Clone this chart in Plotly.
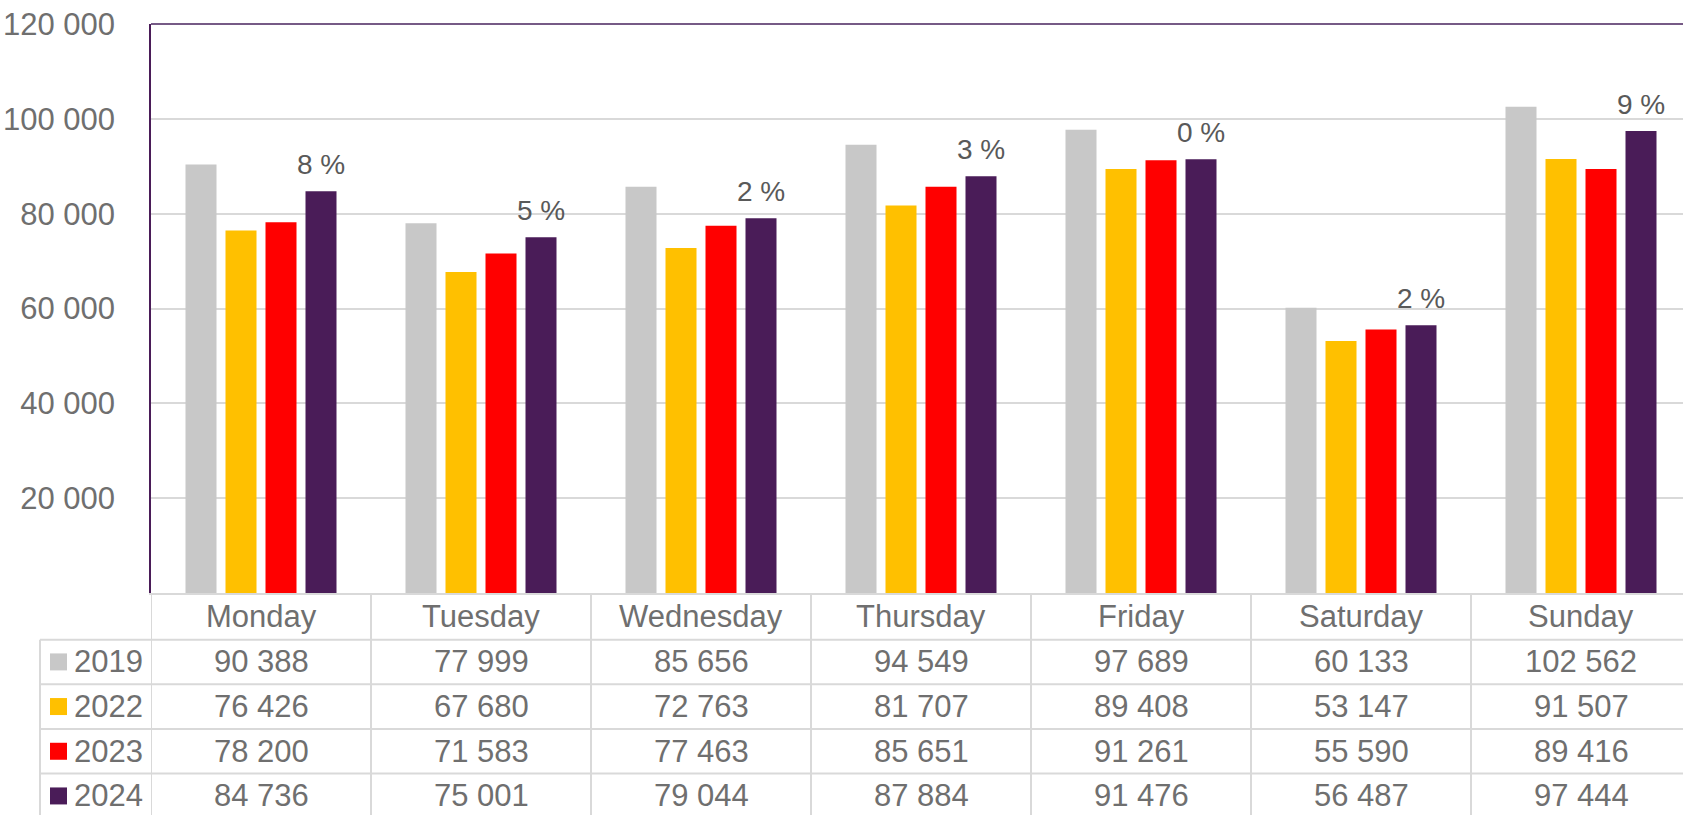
import plotly.graph_objects as go

# ---------------- data ----------------
days = ["Monday", "Tuesday", "Wednesday", "Thursday", "Friday", "Saturday", "Sunday"]
years = ["2019", "2022", "2023", "2024"]
v2019 = [90388, 77999, 85656, 94549, 97689, 60133, 102562]
v2022 = [76426, 67680, 72763, 81707, 89408, 53147, 91507]
v2023 = [78200, 71583, 77463, 85651, 91261, 55590, 89416]
v2024 = [84736, 75001, 79044, 87884, 91476, 56487, 97444]
pct_labels = ["8 %", "5 %", "2 %", "3 %", "0 %", "2 %", "9 %"]
tick_vals = [20000, 40000, 60000, 80000, 100000, 120000]
tick_text = ["20 000", "40 000", "60 000", "80 000", "100 000", "120 000"]

series = [v2019, v2022, v2023, v2024]
colors = ["#C8C8C8", "#FFC000", "#FF0000", "#4A1C58"]

# ---------------- geometry (pixels) ----------------
W, H = 1683, 815
L, T, B = 151, 24, 593.3          # plot area left / top / bottom
CAT_PX = 220.0
BARGAP = 0.2727
BARGROUPGAP = 0.225
x_max = -0.5 + (W - L) / CAT_PX

FONT = "Arial, Liberation Sans, sans-serif"
TXT = "#6F6F6F"
GRID = "#D9D9D9"


def py2paper(py):
    return (B - py) / (B - T)


def px2paper(px):
    return (px - L) / (W - L)


def fmt(v):
    return f"{v:,}".replace(",", " ")


fig = go.Figure()
for name, vals, col in zip(years, series, colors):
    fig.add_trace(go.Bar(x=days, y=vals, name=name, marker_color=col,
                         marker_line_width=0, hoverinfo="x+y+name"))

annotations = []
shapes = []

# percentage labels over 2024 bars
slot = CAT_PX * (1 - BARGAP) / 4
for d, v, lab in zip(days, v2024, pct_labels):
    annotations.append(dict(x=d, y=v, xref="x", yref="y", text=lab, showarrow=False,
                            xshift=1.5 * slot, yshift=9, yanchor="bottom",
                            font=dict(family=FONT, size=28, color="#595959")))

# table rows (pixel y boundaries)
row_lines = [640, 684.5, 729.3, 774, 818.7]
header_center = (B + row_lines[0]) / 2
for d in days:
    annotations.append(dict(x=d, y=py2paper(header_center), xref="x", yref="paper",
                            text=d, showarrow=False, yanchor="middle",
                            font=dict(family=FONT, size=31, color=TXT)))
for r, (yr, vals, col) in enumerate(zip(years, series, colors)):
    yc = (row_lines[r] + row_lines[r + 1]) / 2
    for d, v in zip(days, vals):
        annotations.append(dict(x=d, y=py2paper(yc), xref="x", yref="paper",
                                text=fmt(v), showarrow=False, yanchor="middle",
                                font=dict(family=FONT, size=31, color=TXT)))
    annotations.append(dict(x=px2paper(72), y=py2paper(yc), xref="paper", yref="paper",
                            text=yr, showarrow=False, xanchor="left", yanchor="middle",
                            font=dict(family=FONT, size=31, color=TXT)))
    shapes.append(dict(type="rect", xref="paper", yref="paper",
                       x0=px2paper(50), x1=px2paper(67),
                       y0=py2paper(yc - 8.5), y1=py2paper(yc + 8.5),
                       fillcolor=col, line=dict(width=0)))

# table grid lines
bottom = py2paper(H + 5)
for i in range(len(days) + 1):
    shapes.append(dict(type="line", xref="x", yref="paper", x0=i - 0.5, x1=i - 0.5,
                       y0=0, y1=bottom, line=dict(color=GRID, width=2), layer="below"))
shapes.append(dict(type="line", xref="paper", yref="paper", x0=px2paper(40), x1=px2paper(40),
                   y0=py2paper(row_lines[0]), y1=bottom, line=dict(color=GRID, width=2)))
for ry in row_lines[:4]:
    shapes.append(dict(type="line", xref="paper", yref="paper", x0=px2paper(40), x1=1.01,
                       y0=py2paper(ry), y1=py2paper(ry), line=dict(color=GRID, width=2)))
# top border of plot area
shapes.append(dict(type="line", xref="paper", yref="paper", x0=0, x1=1.01, y0=1, y1=1,
                   line=dict(color="#765A86", width=2)))

fig.update_layout(
    width=W, height=H,
    margin=dict(l=L, r=0, t=T, b=H - B, pad=0),
    paper_bgcolor="white", plot_bgcolor="white",
    barmode="group", bargap=BARGAP, bargroupgap=BARGROUPGAP,
    showlegend=False,
    font=dict(family=FONT, color=TXT),
    annotations=annotations, shapes=shapes,
    xaxis=dict(range=[-0.5, x_max], showticklabels=False, showgrid=False, zeroline=False,
               showline=True, linecolor=GRID, linewidth=2, fixedrange=True),
    yaxis=dict(range=[0, 120000], tickvals=tick_vals, ticktext=tick_text,
               showgrid=True, gridcolor=GRID, gridwidth=1.5, zeroline=False,
               showline=True, linecolor="#4A1C58", linewidth=1.5,
               ticks="", ticklabelstandoff=28,
               tickfont=dict(family=FONT, size=31, color=TXT), fixedrange=True),
)

fig.write_html("out.html", config={"displayModeBar": False},
               post_script="document.body.style.margin='0';document.body.style.overflow='hidden';")
